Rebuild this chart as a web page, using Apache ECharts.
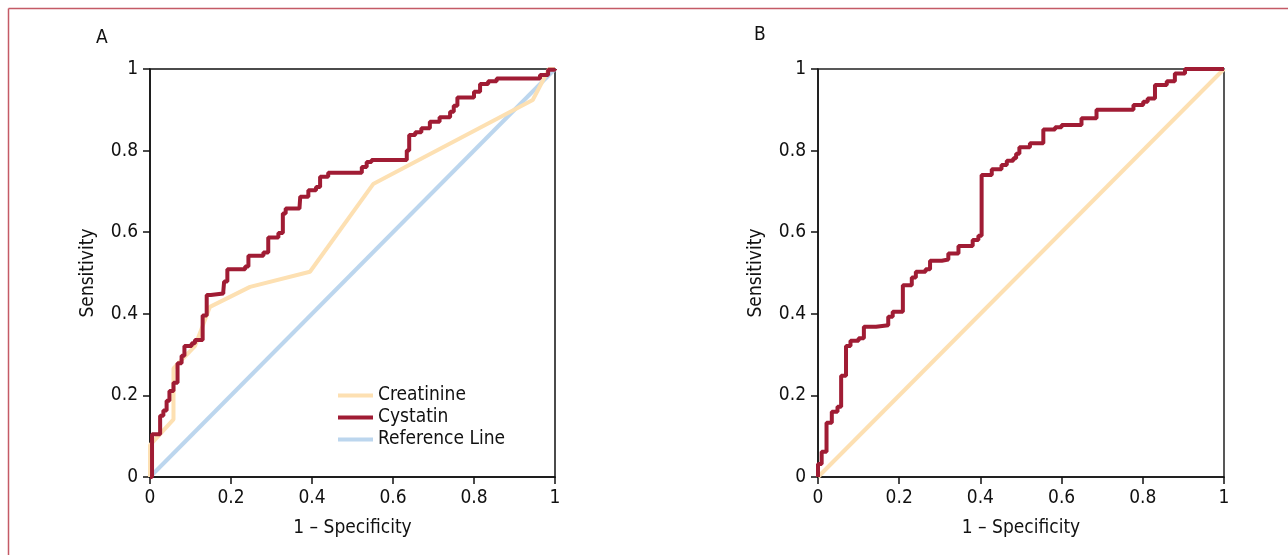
<!DOCTYPE html>
<html>
<head>
<meta charset="utf-8">
<script src="https://cdn.jsdelivr.net/npm/echarts@6/dist/echarts.min.js"></script>
<style>
html,body{margin:0;padding:0;background:#fff;}
#chart{width:1288px;height:555px;}
</style>
</head>
<body>
<div id="chart"></div>
<script>
// Panel A data
var cystatinA = [[0,0],[0.005,0.105],[0.025,0.15],[0.033,0.163],[0.041,0.187],[0.048,0.211],[0.058,0.231],[0.068,0.279],[0.078,0.297],[0.085,0.321],[0.103,0.328],[0.111,0.336],[0.130,0.396],[0.140,0.446],[0.150,0.450],[0.181,0.455],[0.183,0.479],[0.191,0.509],[0.235,0.516],[0.243,0.542],[0.280,0.550],[0.292,0.587],[0.317,0.598],[0.328,0.646],[0.335,0.658],[0.369,0.662],[0.371,0.687],[0.391,0.703],[0.410,0.711],[0.420,0.736],[0.440,0.746],[0.523,0.760],[0.535,0.772],[0.547,0.777],[0.634,0.800],[0.640,0.838],[0.655,0.845],[0.670,0.855],[0.691,0.871],[0.715,0.882],[0.741,0.895],[0.750,0.910],[0.759,0.930],[0.790,0.930],[0.800,0.944],[0.815,0.963],[0.835,0.970],[0.856,0.977],[0.963,0.985],[0.983,0.998],[1,1]];
var creatinineA = [[0,0],[0,0.078],[0.058,0.141],[0.058,0.266],[0.111,0.321],[0.148,0.417],[0.247,0.466],[0.395,0.503],[0.551,0.718],[0.945,0.924],[0.985,1],[1,1]];
var referenceA = [[0,0],[1,1]];
// Panel B data
var cystatinB = [[0,0],[0,0.032],[0.009,0.062],[0.021,0.133],[0.034,0.160],[0.048,0.172],[0.057,0.248],[0.069,0.321],[0.080,0.334],[0.100,0.340],[0.113,0.368],[0.143,0.372],[0.173,0.393],[0.184,0.405],[0.209,0.470],[0.231,0.489],[0.241,0.503],[0.265,0.509],[0.276,0.530],[0.305,0.533],[0.321,0.548],[0.346,0.566],[0.381,0.581],[0.395,0.591],[0.403,0.740],[0.428,0.754],[0.452,0.765],[0.465,0.775],[0.481,0.781],[0.488,0.792],[0.496,0.808],[0.522,0.818],[0.555,0.852],[0.584,0.857],[0.600,0.863],[0.649,0.879],[0.686,0.900],[0.777,0.912],[0.801,0.920],[0.812,0.928],[0.830,0.961],[0.859,0.970],[0.879,0.989],[0.904,1.0],[1,1]];
var referenceB = [[0,0],[1,1]];
// Labels
var panelTitles = ['A','B'];
var xAxisName = '1 \u2013 Specificity';
var yAxisName = 'Sensitivity';
var legendNames = ['Creatinine','Cystatin','Reference Line'];

var FONT = "'Liberation Sans Narrow','DejaVu Sans Condensed','Liberation Sans',sans-serif";
var RED = '#a01c34', PEACH = '#fde0b2', BLUE = '#bcd6ee';

function xAx(gi){
  return {type:'value', gridIndex:gi, min:0, max:1, interval:0.2,
    name:xAxisName, nameLocation:'middle', nameGap:42,
    nameTextStyle:{fontFamily:FONT,fontSize:19,color:'#111'},
    axisLine:{lineStyle:{color:'#111',width:1.5}},
    axisTick:{show:true,inside:false,length:7,lineStyle:{color:'#111',width:1.5}},
    axisLabel:{fontFamily:FONT,fontSize:19,color:'#111',margin:12,
      formatter:function(v){return String(Math.round(v*10)/10);}},
    splitLine:{show:false}};
}
function yAx(gi){
  return {type:'value', gridIndex:gi, min:0, max:1, interval:0.2,
    name:yAxisName, nameLocation:'middle', nameGap:52,
    nameTextStyle:{fontFamily:FONT,fontSize:19,color:'#111'},
    axisLine:{lineStyle:{color:'#111',width:1.5}},
    axisTick:{show:true,inside:false,length:7,lineStyle:{color:'#111',width:1.5}},
    axisLabel:{fontFamily:FONT,fontSize:19,color:'#111',margin:12,
      formatter:function(v){return String(Math.round(v*10)/10);}},
    splitLine:{show:false}};
}
function ln(name, data, color, gi, step){
  return {type:'line', name:name, data:data, xAxisIndex:gi, yAxisIndex:gi,
    showSymbol:false, symbol:'none', step:step||false, animation:false,
    lineStyle:{color:color,width:4}, itemStyle:{color:color}};
}

var chart = echarts.init(document.getElementById('chart'), null, {renderer:'canvas'});
chart.setOption({
  backgroundColor:'#fff',
  animation:false,
  title:[
    {text:panelTitles[0], left:91, top:24, textStyle:{fontFamily:FONT,fontSize:19,fontWeight:'normal',color:'#111'}},
    {text:panelTitles[1], left:749, top:21, textStyle:{fontFamily:FONT,fontSize:19,fontWeight:'normal',color:'#111'}}
  ],
  grid:[
    {left:150, top:69, width:405, height:408, show:true, borderColor:'#111', borderWidth:1.5, containLabel:false},
    {left:818, top:69, width:406, height:408, show:true, borderColor:'#222', borderWidth:1.5, containLabel:false}
  ],
  xAxis:[xAx(0), xAx(1)],
  yAxis:[yAx(0), yAx(1)],
  legend:{data:legendNames, orient:'vertical', left:333, top:381, itemWidth:35, itemHeight:4, itemGap:3,
    icon:'rect', textStyle:{fontFamily:FONT,fontSize:19,color:'#111',padding:[0,0,0,0]}},
  graphic:[
    {type:'line', shape:{x1:8.5,y1:8.5,x2:8.5,y2:555}, style:{stroke:'#c45a66',lineWidth:1.5}},
    {type:'line', shape:{x1:8.5,y1:8.5,x2:1288,y2:8.5}, style:{stroke:'#c45a66',lineWidth:1.5}}
  ],
  series:[
    ln('Reference Line', referenceA, BLUE, 0),
    ln('Creatinine', creatinineA, PEACH, 0),
    ln('Cystatin', cystatinA, RED, 0, 'end'),
    ln('Reference B', referenceB, PEACH, 1),
    ln('Cystatin', cystatinB, RED, 1, 'end')
  ]
});
</script>
</body>
</html>
